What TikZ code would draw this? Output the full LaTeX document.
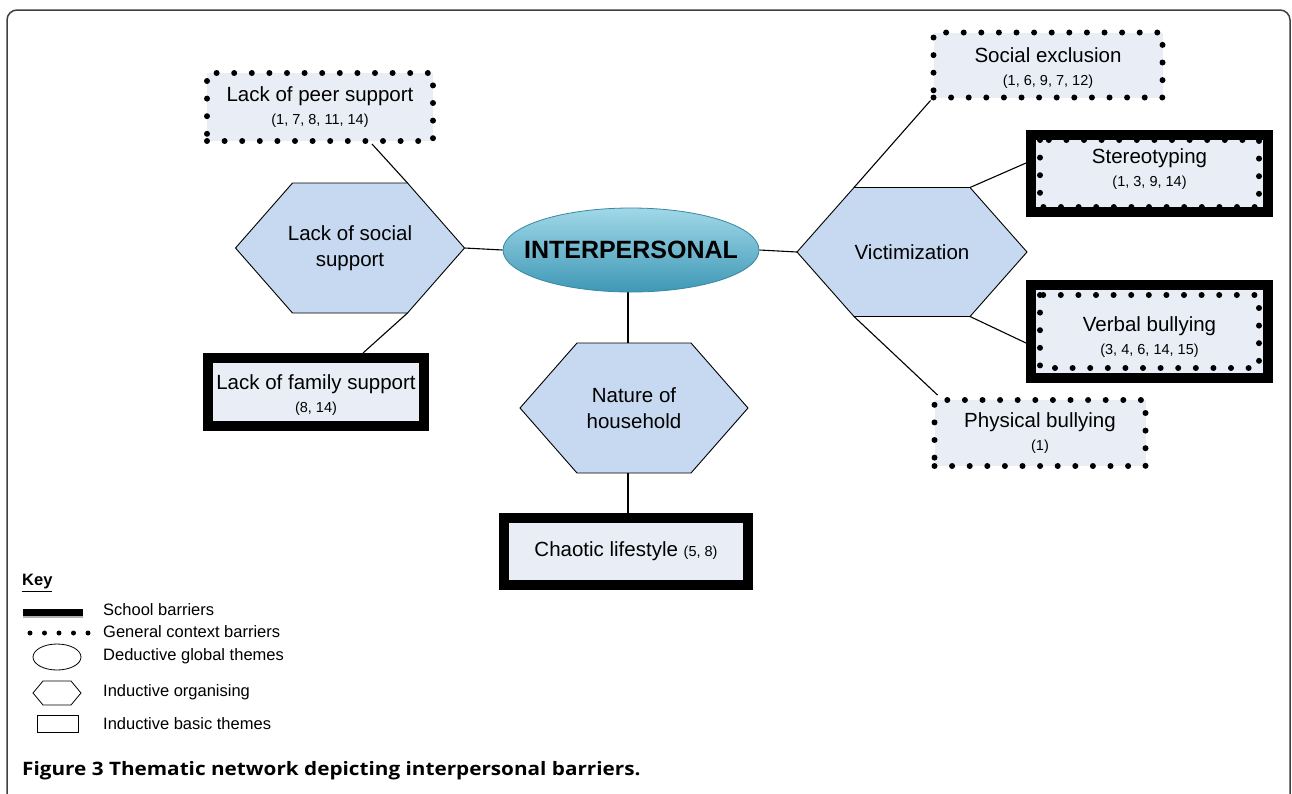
\documentclass[tikz,border=0pt]{standalone}
\usepackage{fontspec}
\setmainfont{Liberation Sans}
\newfontfamily\capfont[FakeStretch=1.12]{Open Sans}
\usetikzlibrary{shapes.geometric}
\definecolor{boxfill}{HTML}{E9EEF6}
\definecolor{hexfill}{HTML}{C6D9F0}
\definecolor{elltop}{HTML}{A0D8E8}
\definecolor{ellmid}{HTML}{6CBBD3}
\definecolor{ellbot}{HTML}{3F98B6}
\definecolor{ellline}{HTML}{3A88A3}
\definecolor{framecol}{HTML}{404040}
\newcommand{\mainfs}{\fontsize{20.5}{22.5}\selectfont}
\newcommand{\numfs}{\fontsize{14.5}{22.5}\selectfont}
\newcommand{\twolab}[2]{#1\\{\numfs #2}}
\pgfdeclarelayer{bgfill}
\pgfdeclarelayer{background}
\pgfsetlayers{bgfill,background,main}
% hexagon: name, x, y, half width, vertex inset, half height, text
\newcommand{\hexnode}[7]{%
  \node[hexlabel] (#1) at (#2,#3) {#7};
  \path (#1.center) ++(-#4pt,0pt) coordinate (#1-w)
        (#1.center) ++(#4pt,0pt) coordinate (#1-e)
        (#1.center) ++(-#4pt+#5pt,#6pt) coordinate (#1-nw)
        (#1.center) ++(#4pt-#5pt,#6pt) coordinate (#1-ne)
        (#1.center) ++(-#4pt+#5pt,-#6pt) coordinate (#1-sw)
        (#1.center) ++(#4pt-#5pt,-#6pt) coordinate (#1-se);
  \begin{pgfonlayer}{background}
  \draw[hexshape] (#1-w) -- (#1-nw) -- (#1-ne) -- (#1-e) -- (#1-se) -- (#1-sw) -- cycle;
  \end{pgfonlayer}}
\tikzset{
  conn/.style={line width=1.1pt, black},
  dotline/.style={line width=6pt, dash pattern=on 0pt off 17.6pt, line cap=round, black},
  dotbox/.style={draw, dotline, fill=boxfill, align=center, inner sep=0pt, font=\mainfs},
  thickbox/.style={draw=black, line width=10pt, fill=boxfill, align=center, inner sep=0pt, font=\mainfs},
  boxlab/.style={align=center, inner sep=0pt, font=\mainfs},
  hexlabel/.style={align=center, font=\fontsize{20.5}{26}\selectfont, inner sep=0pt},
  hexshape/.style={draw=black, line width=0.9pt, fill=hexfill},
  legtext/.style={anchor=west, inner sep=0pt, font=\fontsize{16.5}{18}\selectfont},
}
\begin{document}
\begin{tikzpicture}[x=1pt,y=-1pt]
\useasboundingbox (0,0) rectangle (1292,793);
\begin{pgfonlayer}{bgfill}
\fill[white] (0,0) rectangle (1292,793);
\end{pgfonlayer}
% outer frame
\draw[framecol, line width=1.5pt, rounded corners=10pt] (7,820) -- (7,10) -- (1290,10) -- (1290,820);

% central ellipse
\node[ellipse, minimum width=256pt, minimum height=84pt, top color=elltop, middle color=ellmid, bottom color=ellbot,
      draw=ellline, line width=0.8pt, inner sep=0pt, font=\bfseries\fontsize{25}{28}\selectfont] (ell) at (631,250) {\makebox[0pt]{INTERPERSONAL}};

% hexagons
\hexnode{soc}{350}{248}{114.5}{57}{65}{Lack of social\\support}
\hexnode{vic}{912}{252}{115}{57}{64.5}{Victimization}
\hexnode{nat}{634}{408}{114}{57}{65}{Nature of\\household}

% basic themes (left)
\node[dotbox, minimum width=226pt, minimum height=68pt] (peer) at (320,107) {\twolab{Lack of peer support}{(1, 7, 8, 11, 14)}};
\node[thickbox, minimum width=216pt, minimum height=68pt] (fam) at (316,392) {};
\node[boxlab] (famlab) at (316,395) {\twolab{Lack of family support}{(8, 14)}};
\node[thickbox, minimum width=244pt, minimum height=67pt] (cha) at (626,551.5) {Chaotic lifestyle {\numfs (5, 8)}};

% basic themes (right)
\node[dotbox, minimum width=229pt, minimum height=65pt] (sex) at (1048,65) {};
\node[boxlab] (sexlab) at (1048,68) {\twolab{Social exclusion}{(1, 6, 9, 7, 12)}};
\node[thickbox, minimum width=237pt, minimum height=77pt] (ste) at (1149.5,173.5) {};
\draw[dotline] ([xshift=14pt,yshift=-10pt]ste.north west) rectangle ([xshift=-14pt,yshift=10pt]ste.south east);
\node[boxlab] (stelab) at (1149.5,169) {\twolab{Stereotyping}{(1, 3, 9, 14)}};
\node[thickbox, minimum width=237pt, minimum height=93pt] (ver) at (1149.5,331.5) {};
\draw[dotline] ([xshift=14pt,yshift=-15pt]ver.north west) rectangle ([xshift=-14pt,yshift=15pt]ver.south east);
\node[boxlab] (verlab) at (1149.5,337) {\twolab{Verbal bullying}{(3, 4, 6, 14, 15)}};
\node[dotbox, minimum width=211pt, minimum height=66pt] (phy) at (1040,433) {\twolab{Physical bullying}{(1)}};

% connectors
\begin{pgfonlayer}{background}
\draw[conn] ([xshift=52pt]peer.south) -- (soc-ne);
\draw[conn] (soc-se) -- ([xshift=47pt]fam.north);
\draw[conn] (soc-e) -- (ell.west);
\draw[conn] (ell.east) -- (vic-w);
\draw[conn] ([xshift=-3pt]ell.south) -- ([xshift=-3pt]ell.south |- nat-nw);
\draw[conn] ([xshift=-6pt]nat.center |- nat-sw) -- ([xshift=-6pt]nat.center |- cha.north);
\draw[conn] (sex.south west) -- (vic-nw);
\draw[conn] (vic-ne) -- ([yshift=10.5pt]ste.west);
\draw[conn] (vic-se) -- ([yshift=-11.5pt]ver.west);
\draw[conn] (vic-sw) -- ([xshift=6pt,yshift=2pt]phy.north west);
\end{pgfonlayer}

% key
\node[legtext, font=\bfseries\fontsize{16.5}{18}\selectfont] (key) at (22,583) {\underline{Key}};
\coordinate (l1a) at (23,612); \coordinate (l1b) at (83,612);
\draw[line width=7pt] (l1a) -- (l1b);
\draw[gray!60, line width=2pt] (23,617) -- (83,617);
\node[legtext] (t1) at (103,610) {School barriers};
\coordinate (l2a) at (30,633); \coordinate (l2b) at (88,633);
\draw[line width=5pt, dash pattern=on 0pt off 14.5pt, line cap=round] (l2a) -- (l2b);
\node[legtext] (t2) at (103,632) {General context barriers};
\draw[line width=0.8pt] (57,657) ellipse (24pt and 13pt);
\node[legtext] (t3) at (103,656) {Deductive global themes};
\draw[line width=0.8pt] (33,693) -- (43,681) -- (71,681) -- (81,693) -- (71,705) -- (43,705) -- cycle;
\node[legtext] (t4) at (103,692) {Inductive organising};
\draw[line width=0.8pt] (37,715) rectangle (78,732);
\node[legtext] (t5) at (103,724) {Inductive basic themes};

% caption
\node[anchor=west, inner sep=0pt, font=\capfont\bfseries\fontsize{18.5}{20}\selectfont] (cap) at (22,771) {Figure 3 Thematic network depicting interpersonal barriers.};
\end{tikzpicture}
\end{document}
